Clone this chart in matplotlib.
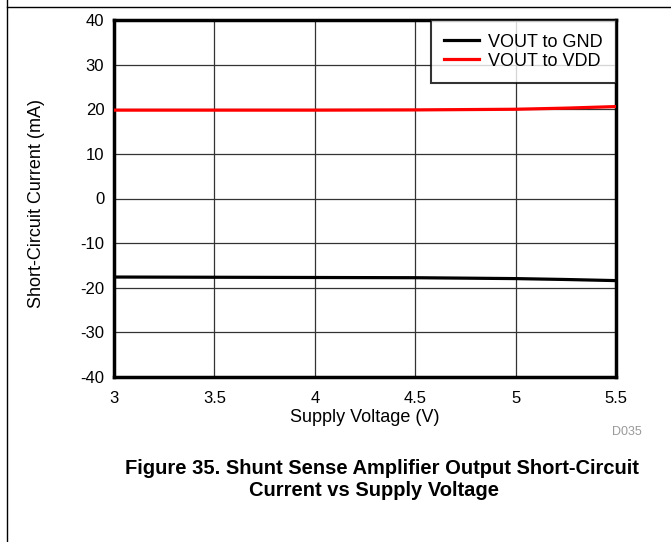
import matplotlib
matplotlib.use("Agg")
import matplotlib.pyplot as plt
from matplotlib.lines import Line2D

plt.rcParams['font.family'] = ['Liberation Sans', 'DejaVu Sans']
plt.rcParams['axes.unicode_minus'] = False

supply_v = [3.0, 3.5, 4.0, 4.5, 5.0, 5.25, 5.5]
i_gnd = [-17.6, -17.65, -17.7, -17.75, -17.95, -18.15, -18.4]
i_vdd = [19.8, 19.8, 19.8, 19.85, 20.0, 20.25, 20.6]
x_ticks = [3, 3.5, 4, 4.5, 5, 5.5]
x_ticklabels = ["3", "3.5", "4", "4.5", "5", "5.5"]
y_ticks = [-40, -30, -20, -10, 0, 10, 20, 30, 40]

W, H = 671, 542
fig = plt.figure(figsize=(W/100, H/100), dpi=100)
ax = fig.add_axes([114/W, 1-377/H, (616-114)/W, (377-20)/H])

ax.plot(supply_v, i_gnd, color='black', lw=2.3, label='VOUT to GND', zorder=3)
ax.plot(supply_v, i_vdd, color='#ff0000', lw=2.3, label='VOUT to VDD', zorder=3)

ax.set_xlim(3, 5.5)
ax.set_ylim(-40, 40)
ax.set_xticks(x_ticks)
ax.set_xticklabels(x_ticklabels)
ax.set_yticks(y_ticks)
ax.grid(True, color='#333333', lw=0.9)
ax.tick_params(axis='both', length=0, labelsize=12)
ax.tick_params(axis='x', pad=10)
ax.tick_params(axis='y', pad=7)
for s in ax.spines.values():
    s.set_linewidth(2.5)
ax.set_xlabel('Supply Voltage (V)', fontsize=13, labelpad=2)
ax.set_ylabel('Short-Circuit Current (mA)', fontsize=13)
ax.yaxis.set_label_coords((45 - 114) / 502, (377 - 203) / 357)

leg = ax.legend(loc='upper right', fontsize=13, frameon=True, fancybox=False,
                borderaxespad=0, handlelength=1.9, borderpad=0.75,
                labelspacing=0.12, handletextpad=0.5)
leg.get_frame().set_edgecolor('black')
leg.get_frame().set_linewidth(1.5)

fig.text(627/W, 1-432/H, 'D035', fontsize=9, color='#999999', ha='center', va='center')
fig.text(382/W, 1-469/H, 'Figure 35. Shunt Sense Amplifier Output Short-Circuit',
         fontsize=14.5, fontweight='bold', ha='center', va='center')
fig.text(374/W, 1-491/H, 'Current vs Supply Voltage',
         fontsize=14.5, fontweight='bold', ha='center', va='center')

fig.add_artist(Line2D([7/W, 7/W], [0, 1], color='black', lw=1.0))
fig.add_artist(Line2D([7/W, 1], [1-7/H, 1-7/H], color='black', lw=1.0))

fig.savefig('out.png', dpi=100)
